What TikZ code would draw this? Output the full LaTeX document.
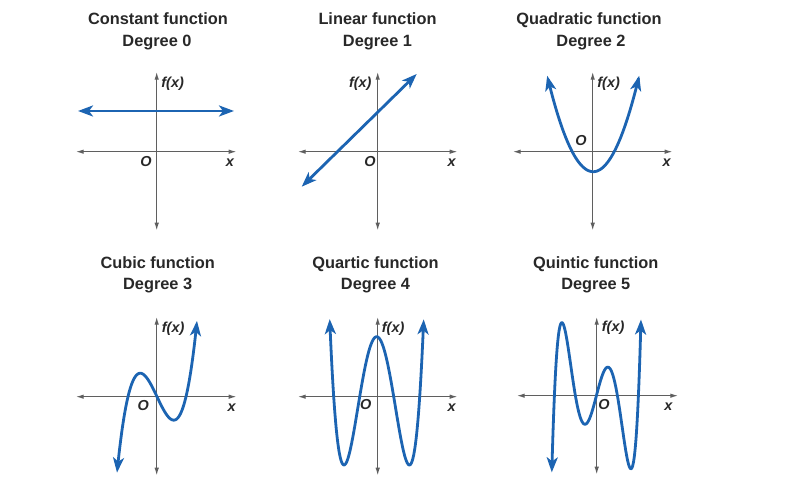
\documentclass[tikz,border=0pt]{standalone}
\usepackage{fontspec}
\setmainfont{Liberation Sans}
\usetikzlibrary{arrows.meta}
\definecolor{curveblue}{RGB}{28,100,178}
\definecolor{axisgray}{RGB}{95,95,95}
\definecolor{titlegray}{RGB}{40,40,40}
\tikzset{
  axisline/.style={draw=axisgray, line width=1.3bp, {Latex[length=8bp,width=4.5bp]}-{Latex[length=8bp,width=4.5bp]}},
  curveline/.style={draw=curveblue, line width=2.8bp, line join=round, {Stealth[length=15bp,width=11bp,inset=4bp]}-{Stealth[length=15bp,width=11bp,inset=4bp]}},
  titletext/.style={font=\fontsize{16.4}{20}\selectfont\bfseries, text=titlegray, anchor=base, inner sep=0pt},
  axislabel/.style={font=\fontsize{14.5}{16}\selectfont\bfseries\itshape, text=titlegray, inner sep=0pt},
}
\begin{document}
\begin{tikzpicture}[x=1bp,y=1bp]
\useasboundingbox (0,0) rectangle (809,500);
\fill[white] (0,0) rectangle (809,500);

% ---------- titles ----------
\node[titletext] (t1a) at (158,475) {Constant function};
\node[titletext] (t1b) at (157,453.3) {Degree 0};
\node[titletext] (t2a) at (377.5,475) {Linear function};
\node[titletext] (t2b) at (377.5,453.3) {Degree 1};
\node[titletext] (t3a) at (589,475) {Quadratic function};
\node[titletext] (t3b) at (591,453.3) {Degree 2};
\node[titletext] (t4a) at (157.7,231.7) {Cubic function};
\node[titletext] (t4b) at (157.7,210) {Degree 3};
\node[titletext] (t5a) at (375.5,231.7) {Quartic function};
\node[titletext] (t5b) at (375.5,210) {Degree 4};
\node[titletext] (t6a) at (595.8,231.7) {Quintic function};
\node[titletext] (t6b) at (595.8,210) {Degree 5};

% ---------- panel 1: constant ----------
\begin{scope}[shift={(156.7,348.3)}]
  \coordinate (a1l) at (-81,0); \coordinate (a1r) at (80,0);
  \coordinate (a1b) at (0,-79); \coordinate (a1t) at (0,80);
  \draw[axisline] (a1l) -- (a1r);
  \draw[axisline] (a1b) -- (a1t);
  \coordinate (c1l) at (-78.7,40.7); \coordinate (c1r) at (77.3,40.7);
  \draw[curveline] (c1l) -- (c1r);
  \node[axislabel, anchor=base west] (f1) at (4.5,64) {f(x)};
  \node[axislabel, anchor=base] (o1) at (-10.7,-15) {O};
  \node[axislabel, anchor=base] (x1) at (73.3,-15) {x};
\end{scope}

% ---------- panel 2: linear ----------
\begin{scope}[shift={(377.7,348.3)}]
  \coordinate (a2l) at (-80,0); \coordinate (a2r) at (80,0);
  \coordinate (a2b) at (0,-79); \coordinate (a2t) at (0,80);
  \draw[axisline] (a2l) -- (a2r);
  \draw[axisline] (a2b) -- (a2t);
  \coordinate (c2l) at (-76,-35); \coordinate (c2r) at (39,77.7);
  \draw[curveline] (c2l) -- (c2r);
  \node[axislabel, anchor=base east] (f2) at (-6,64) {f(x)};
  \node[axislabel, anchor=base] (o2) at (-7.7,-15) {O};
  \node[axislabel, anchor=base] (x2) at (74,-15) {x};
\end{scope}

% ---------- panel 3: quadratic ----------
\begin{scope}[shift={(592.7,348.3)}]
  \coordinate (a3l) at (-80,0); \coordinate (a3r) at (80,0);
  \coordinate (a3b) at (0,-79); \coordinate (a3t) at (0,80);
  \draw[axisline] (a3l) -- (a3r);
  \draw[axisline] (a3b) -- (a3t);
  \draw[curveline] plot[domain=-46:46, samples=93, smooth] ({\x+0.5}, {0.04535*\x*\x-20});
  \node[axislabel, anchor=base west] (f3) at (4.5,64) {f(x)};
  \node[axislabel, anchor=base] (o3) at (-11.7,6) {O};
  \node[axislabel, anchor=base] (x3) at (74,-15) {x};
\end{scope}

% ---------- panel 4: cubic ----------
\begin{scope}[shift={(156.7,103.3)}]
  \coordinate (a4l) at (-81,0); \coordinate (a4r) at (80,0);
  \coordinate (a4b) at (0,-79); \coordinate (a4t) at (0,80);
  \draw[axisline] (a4l) -- (a4r);
  \draw[axisline] (a4b) -- (a4t);
  \draw[curveline] plot[domain=-4:4, samples=101, smooth] ({10*\x+0.3}, {2.5*\x*(\x*\x-8.41)});
  \node[axislabel, anchor=base west] (f4) at (5,64) {f(x)};
  \node[axislabel, anchor=base] (o4) at (-13.4,-14) {O};
  \node[axislabel, anchor=base] (x4) at (75,-15) {x};
\end{scope}

% ---------- panel 5: quartic ----------
\begin{scope}[shift={(377.7,103.3)}]
  \coordinate (a5l) at (-80,0); \coordinate (a5r) at (80,0);
  \coordinate (a5b) at (0,-79); \coordinate (a5t) at (0,80);
  \draw[axisline] (a5l) -- (a5r);
  \draw[axisline] (a5b) -- (a5t);
  \draw[curveline] plot[domain=-4.7:4.7, samples=121, smooth] ({10*\x-1}, {1.1228*(\x*\x-2.89)*(\x*\x-18.49)});
  \node[axislabel, anchor=base west] (f5) at (4,64) {f(x)};
  \node[axislabel, anchor=base] (o5) at (-12,-13.3) {O};
  \node[axislabel, anchor=base] (x5) at (74,-15) {x};
\end{scope}

% ---------- panel 6: quintic ----------
\begin{scope}[shift={(596.7,104.3)}]
  \coordinate (a6l) at (-80,0); \coordinate (a6r) at (81.6,0);
  \coordinate (a6b) at (0,-79); \coordinate (a6t) at (0,79);
  \draw[axisline] (a6l) -- (a6r);
  \draw[axisline] (a6b) -- (a6t);
  \draw[curveline] plot[domain=-4.46:4.46, samples=141, smooth] ({10*\x-0.3}, {0.493*\x*(\x*\x-4.41)*(\x*\x-17.64)});
  \node[axislabel, anchor=base west] (f6) at (5,64) {f(x)};
  \node[axislabel, anchor=base] (o6) at (7.3,-14.3) {O};
  \node[axislabel, anchor=base] (x6) at (71.6,-15) {x};
\end{scope}
\end{tikzpicture}
\end{document}
